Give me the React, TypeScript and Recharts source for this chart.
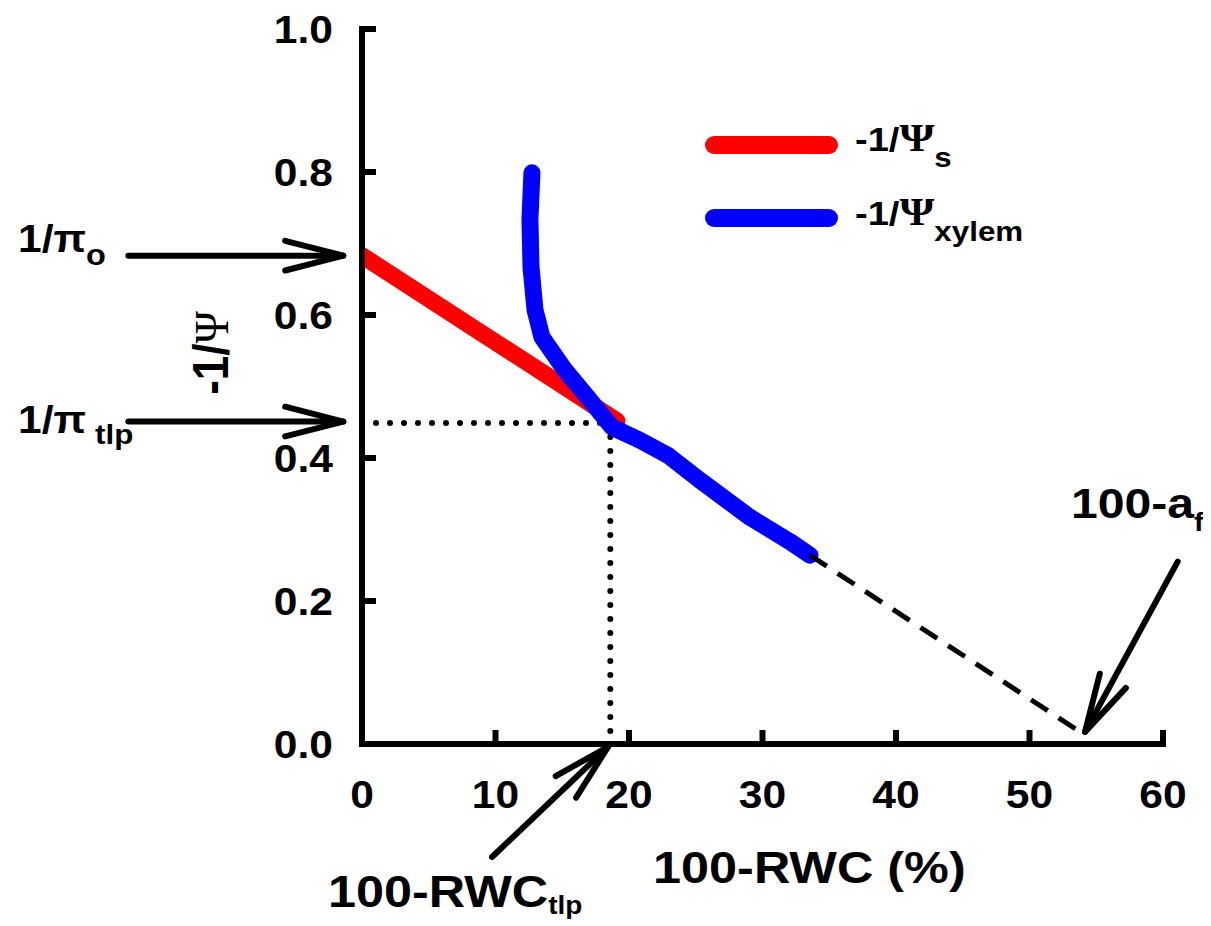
import React from 'react';
import { ComposedChart, Line, XAxis, YAxis, ReferenceLine, ReferenceDot, Legend } from 'recharts';

// ---------- data ----------
const xTickValues = [0, 10, 20, 30, 40, 50, 60];
const yTickValues = [0, 0.2, 0.4, 0.6, 0.8, 1.0];

// -1/Psi_s (osmotic) straight line
const soluteX = [0, 19.1];
const soluteY = [0.683, 0.452];

// -1/Psi_xylem measured curve
const xylemX = [12.73, 12.58, 12.66, 12.96, 13.48, 15.2, 17.08, 18.73, 20.8, 22.9, 25.3, 29.06, 32.06, 33.56];
const xylemY = [0.799, 0.733, 0.667, 0.607, 0.569, 0.523, 0.481, 0.443, 0.425, 0.404, 0.369, 0.317, 0.283, 0.264];

// dashed extrapolation to the x intercept (100 - a_f)
const extrapX = [33.56, 54.2];
const extrapY = [0.264, 0.012];

// turgor loss point
const tlpX = 18.6;
const tlpY = 0.449;

// ---------- tables built from the arrays ----------
const toPoints = (xs: number[], ys: number[]) => xs.map((x, i) => ({ x, y: ys[i] }));
const soluteData = toPoints(soluteX, soluteY);
const xylemData = toPoints(xylemX, xylemY);
const extrapData = toPoints(extrapX, extrapY);
const tlpHorizontal = toPoints([0, tlpX], [tlpY, tlpY]);
const tlpVertical = toPoints([tlpX, tlpX], [tlpY, 0]);

// ---------- styling ----------
const SANS = '"Liberation Sans", Arial, Helvetica, sans-serif';
const SERIF = '"Liberation Serif", "Times New Roman", serif';
const SX = 1.12;
const AXIS_W = 6;
const TICK_LEN = 14;

const YTick = (props: any) => {
  const { x, y, payload } = props;
  return (
    <g>
      <line x1={x} y1={y} x2={x + TICK_LEN} y2={y} stroke="#000" strokeWidth={AXIS_W} />
      <text
        transform={`translate(${x - 29},${y + 14}) scale(${SX},1)`}
        textAnchor="end"
        fontFamily={SANS}
        fontWeight="bold"
        fontSize={38}
        fill="#000"
      >
        {Number(payload.value).toFixed(1)}
      </text>
    </g>
  );
};

const XTick = (props: any) => {
  const { x, y, payload } = props;
  return (
    <g>
      <line x1={x} y1={y} x2={x} y2={y - TICK_LEN} stroke="#000" strokeWidth={AXIS_W} />
      <text
        transform={`translate(${x},${y + 64}) scale(${SX},1)`}
        textAnchor="middle"
        fontFamily={SANS}
        fontWeight="bold"
        fontSize={38}
        fill="#000"
      >
        {String(payload.value)}
      </text>
    </g>
  );
};

const Arrow = (props: any) => {
  const { x1, y1, x2, y2 } = props;
  const ang = Math.atan2(y2 - y1, x2 - x1);
  const L = 60;
  const s = 0.25;
  const w1x = x2 - L * Math.cos(ang - s);
  const w1y = y2 - L * Math.sin(ang - s);
  const w2x = x2 - L * Math.cos(ang + s);
  const w2y = y2 - L * Math.sin(ang + s);
  return (
    <g stroke="#000" strokeWidth={6} fill="none" strokeLinecap="round" strokeLinejoin="round">
      <line x1={x1} y1={y1} x2={x2} y2={y2} />
      <polyline points={`${w1x},${w1y} ${x2},${y2} ${w2x},${w2y}`} />
    </g>
  );
};

const txt = (cx: number, cy: number, size: number, children: React.ReactNode, anchor: string = 'start', extra: string = '') => (
  <text
    transform={`translate(${cx},${cy}) scale(${SX},1)${extra}`}
    textAnchor={anchor as any}
    fontFamily={SANS}
    fontWeight="bold"
    fontSize={size}
    fill="#000"
  >
    {children}
  </text>
);

const LegendBox = () => (
  <svg width={420} height={160} style={{ overflow: 'visible', display: 'block' }}>
    <line x1={24} y1={35} x2={139} y2={35} stroke="#ff0000" strokeWidth={18} strokeLinecap="round" />
    <line x1={24} y1={108} x2={139} y2={108} stroke="#0000ff" strokeWidth={18} strokeLinecap="round" />
    {txt(165, 41, 34, <>
      <tspan>-1/</tspan>
      <tspan fontFamily={SERIF} fontSize={40}>Ψ</tspan>
      <tspan dy={16} fontSize={28}>s</tspan>
    </>)}
    {txt(165, 115, 34, <>
      <tspan>-1/</tspan>
      <tspan fontFamily={SERIF} fontSize={40}>Ψ</tspan>
      <tspan dy={16} fontSize={28}>xylem</tspan>
    </>)}
  </svg>
);

export default function App() {
  return (
    <div style={{ width: 1203, height: 918 }}>
      <ComposedChart
        width={1203}
        height={918}
        margin={{ top: 21, right: 48, bottom: 122, left: 254 }}
      >
        <XAxis
          type="number"
          dataKey="x"
          domain={[0, 60]}
          ticks={xTickValues}
          interval={0}
          allowDataOverflow
          height={60}
          tickSize={0}
          tickMargin={0}
          tickLine={false}
          axisLine={{ stroke: '#000', strokeWidth: AXIS_W, strokeLinecap: 'square' }}
          tick={(p: any) => <XTick {...p} />}
        />
        <YAxis
          type="number"
          dataKey="y"
          domain={[0, 1]}
          ticks={yTickValues}
          interval={0}
          allowDataOverflow
          width={100}
          tickSize={0}
          tickMargin={0}
          tickLine={false}
          axisLine={{ stroke: '#000', strokeWidth: AXIS_W, strokeLinecap: 'square' }}
          tick={(p: any) => <YTick {...p} />}
        />
        <Legend
          content={() => <LegendBox />}
          layout="vertical"
          align="center"
          verticalAlign="middle"
          wrapperStyle={{ left: 682, top: 102, width: 420, height: 160 }}
        />

        <Line data={tlpHorizontal} dataKey="y" type="linear" stroke="#000" strokeWidth={6} strokeDasharray="0 14" strokeLinecap="round" dot={false} activeDot={false} isAnimationActive={false} legendType="none" />
        <Line data={tlpVertical} dataKey="y" type="linear" stroke="#000" strokeWidth={6} strokeDasharray="0 14" strokeLinecap="round" dot={false} activeDot={false} isAnimationActive={false} legendType="none" />
        <Line data={soluteData} dataKey="y" name="-1/Ψs" type="linear" stroke="#ff0000" strokeWidth={17} strokeLinecap="round" dot={false} activeDot={false} isAnimationActive={false} />
        <Line data={xylemData} dataKey="y" name="-1/Ψxylem" type="linear" stroke="#0000ff" strokeWidth={17} strokeLinecap="round" strokeLinejoin="round" dot={false} activeDot={false} isAnimationActive={false} />
        <Line data={extrapData} dataKey="y" type="linear" stroke="#000" strokeWidth={5} strokeDasharray="20 13" dot={false} activeDot={false} isAnimationActive={false} legendType="none" />

        <ReferenceDot x={soluteX[0]} y={soluteY[0]} r={3} fill="#000" stroke="none" ifOverflow="visible" />

        {/* arrows */}
        <ReferenceLine segment={[{ x: -17.5, y: soluteY[0] }, { x: -1.4, y: soluteY[0] }]} ifOverflow="visible" shape={(p: any) => <Arrow {...p} />} />
        <ReferenceLine segment={[{ x: -17.5, y: 0.451 }, { x: -1.4, y: 0.451 }]} ifOverflow="visible" shape={(p: any) => <Arrow {...p} />} />
        <ReferenceLine segment={[{ x: 9.74, y: -0.158 }, { x: 18.43, y: -0.004 }]} ifOverflow="visible" shape={(p: any) => <Arrow {...p} />} />
        <ReferenceLine segment={[{ x: 61.1, y: 0.255 }, { x: 54.16, y: 0.017 }]} ifOverflow="visible" shape={(p: any) => <Arrow {...p} />} />

        {/* annotation texts */}
        <ReferenceDot x={-25.77} y={0.688} ifOverflow="visible" shape={(p: any) => txt(p.cx, p.cy, 38, <>
          <tspan>1/π</tspan>
          <tspan dy={13} fontSize={29}>o</tspan>
        </>)} />
        <ReferenceDot x={-25.77} y={0.435} ifOverflow="visible" shape={(p: any) => txt(p.cx, p.cy, 38, <>
          <tspan>1/π</tspan>
          <tspan dx={8} dy={11} fontSize={28}>tlp</tspan>
        </>)} />
        <ReferenceDot x={-2.55} y={-0.228} ifOverflow="visible" shape={(p: any) => txt(p.cx, p.cy, 45, <>
          <tspan>100-RWC</tspan>
          <tspan dy={7} fontSize={25}>tlp</tspan>
        </>)} />
        <ReferenceDot x={53.1} y={0.316} ifOverflow="visible" shape={(p: any) => txt(p.cx, p.cy, 43, <>
          <tspan>100-a</tspan>
          <tspan dy={13} fontSize={26}>f</tspan>
        </>)} />

        {/* axis titles */}
        <ReferenceDot x={21.8} y={-0.194} ifOverflow="visible" shape={(p: any) => txt(p.cx, p.cy, 45, '100-RWC (%)')} />
        <ReferenceDot x={-10.04} y={0.547} ifOverflow="visible" shape={(p: any) => txt(p.cx, p.cy, 44, <>
          <tspan>-1/</tspan>
          <tspan fontFamily={SERIF} fontWeight="normal">Ψ</tspan>
        </>, 'middle', ' rotate(-90)')} />
      </ComposedChart>
    </div>
  );
}
